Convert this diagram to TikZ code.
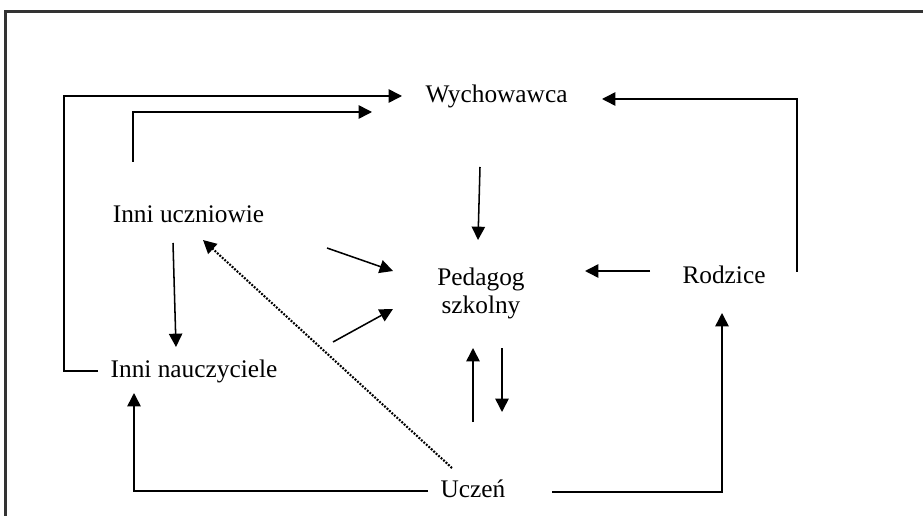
\documentclass[tikz,border=0pt]{standalone}
\usepackage{fontspec}
\setmainfont{Liberation Serif}
\usetikzlibrary{arrows.meta,calc}
\begin{document}
\begin{tikzpicture}[x=0.75pt,y=-0.75pt,
  lbl/.style={font=\fontsize{19}{21}\selectfont, inner sep=0pt, anchor=base},
  arr/.style={line width=1.15pt, -{Triangle[length=10pt,width=10pt]}},
  dotarr/.style={line width=1.6pt, dash pattern=on 1.4pt off 1.1pt, -{Triangle[length=10pt,width=10pt]}},
  frame/.style={line width=1.6pt, draw=black!80}]
\useasboundingbox (0,0) rectangle (923,516);
\draw[frame] (5.5,516) -- (5.5,11.5) -- (923,11.5);

\node[lbl] (wy) at (496.5,103) {Wychowawca};
\node[lbl] (iu) at (188.5,223) {Inni uczniowie};
\node[lbl] (in) at (194,377) {Inni nauczyciele};
\node[font=\fontsize{19}{21}\selectfont, inner sep=0pt, align=center] (ped) at (481,293) {Pedagog\\szkolny};
\node[lbl] (ro) at (724,283) {Rodzice};
\node[lbl] (uc) at (473,497) {Uczeń};

% outer: Inni nauczyciele -> Wychowawca
\draw[arr] ($(in.base)+(-96,-6)$) -- ++(-34,0) |- ($(wy.base)+(-94.5,-7)$);
% inner: Inni uczniowie -> Wychowawca
\draw[arr] ($(iu.base)+(-55.5,-61)$) |- ($(wy.base)+(-124.5,9)$);
% Wychowawca -> Pedagog
\draw[arr] ($(wy.base)+(-16.5,64)$) -- ($(ped.center)+(-3,-53)$);
% Rodzice -> Wychowawca
\draw[arr] ($(ro.base)+(73,-11)$) |- ($(wy.base)+(105.5,-4)$);
% Rodzice -> Pedagog
\draw[arr] ($(ro.base)+(-74,-12)$) -- ($(ped.center)+(104,-22)$);
% Uczen -> Rodzice
\draw[arr] ($(uc.base)+(79,-5)$) -| ($(ro.base)+(-2,30)$);
% Uczen -> Inni nauczyciele
\draw[arr] ($(uc.base)+(-45,-6)$) -| ($(in.base)+(-60,16)$);
% dotted Uczen -> Inni uczniowie
\draw[dotarr] ($(uc.base)+(-21,-29)$) -- ($(iu.base)+(14.5,17)$);
% Inni uczniowie -> Inni nauczyciele
\draw[arr] ($(iu.base)+(-15.5,20)$) -- ($(in.base)+(-18,-30)$);
% Inni uczniowie -> Pedagog
\draw[arr] ($(iu.base)+(138.5,25)$) -- ($(ped.center)+(-88,-22)$);
% Inni nauczyciele -> Pedagog
\draw[arr] ($(in.base)+(139,-35)$) -- ($(ped.center)+(-88,16)$);
% Uczen -> Pedagog
\draw[arr] ($(uc.base)+(0,-75)$) -- ($(ped.center)+(-8,55)$);
% Pedagog -> Uczen
\draw[arr] ($(ped.center)+(21,55)$) -- ($(uc.base)+(29,-85)$);
\end{tikzpicture}
\end{document}
